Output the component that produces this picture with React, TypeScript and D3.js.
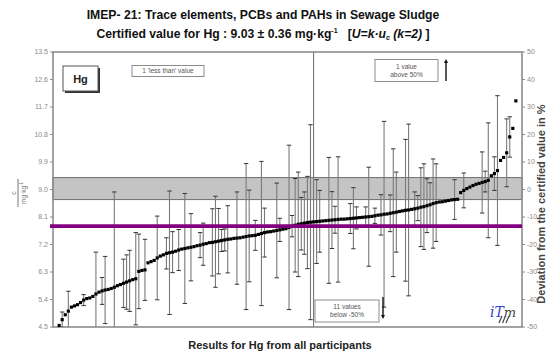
import React, { useRef, useEffect } from "react";
import * as d3 from "d3";

// sorted lab results for Hg (mg/kg)
const hgValues = [
  4.55, 4.74, 4.9, 5.02, 5.15, 5.19, 5.23, 5.3, 5.38, 5.43,
  5.45, 5.5, 5.58, 5.64, 5.68, 5.71, 5.73, 5.76, 5.8, 5.85,
  5.89, 5.93, 5.97, 6.01, 6.05, 6.08, 6.32, 6.35, 6.37, 6.6,
  6.64, 6.68, 6.76, 6.82, 6.86, 6.91, 6.93, 6.95, 6.98, 7.02,
  7.05, 7.07, 7.09, 7.11, 7.13, 7.16, 7.18, 7.21, 7.23, 7.26,
  7.27, 7.29, 7.31, 7.33, 7.35, 7.37, 7.38, 7.4, 7.41, 7.42,
  7.44, 7.46, 7.48, 7.49, 7.5, 7.53, 7.56, 7.59, 7.61, 7.62,
  7.64, 7.66, 7.68, 7.7, 7.72, 7.76, 7.8, 7.83, 7.86, 7.88,
  7.9, 7.92, 7.93, 7.94, 7.95, 7.96, 7.97, 7.98, 7.99, 8.0,
  8.01, 8.02, 8.03, 8.03, 8.04, 8.05, 8.06, 8.07, 8.08, 8.09,
  8.1, 8.11, 8.12, 8.14, 8.16, 8.17, 8.19, 8.2, 8.22, 8.24,
  8.26, 8.28, 8.3, 8.32, 8.33, 8.35, 8.37, 8.39, 8.42, 8.44,
  8.47, 8.5, 8.54, 8.57, 8.59, 8.6, 8.62, 8.64, 8.66, 8.67,
  8.68, 8.9, 8.97, 9.03, 9.08, 9.13, 9.17, 9.2, 9.23, 9.26,
  9.3, 9.45, 9.52, 9.62, 9.95, 10.05, 10.2, 10.72, 11.0, 11.9,
];

// expanded uncertainty reported by each lab (0 = none shown)
const hgUncertainty = [
  0, 0.25, 0, 0.65, 0, 0, 0, 0, 0.18, 0,
  0, 0, 1.37, 0, 0.44, 1.1, 0, 0, 3.12, 0,
  0, 0.79, 0.89, 1.0, 0, 1.51, 1.22, 0, 1.0, 0,
  0, 0, 1.37, 0, 0, 0.51, 2.02, 0.67, 0, 0.67,
  0, 1.8, 0, 1.1, 0, 0, 0.41, 0.69, 0, 0,
  1.1, 1.49, 1.07, 0.36, 0.36, 1.1, 0, 0, 1.51, 0,
  0, 2.39, 1.5, 0, 0.49, 0, 2.36, 0.8, 0, 0,
  0, 1.55, 0.38, 0, 0, 2.69, 0.35, 1.53, 1.71, 0.86,
  1.02, 1.51, 3.19, 6.0, 1.37, 1.01, 0, 0, 2.06, 0.93,
  0.44, 2.05, 0, 0, 0, 0.49, 1.0, 0.36, 0, 0,
  0.33, 1.62, 0, 0.25, 0, 0.66, 3.04, 0, 0.6, 2.09,
  1.31, 0, 0, 2.32, 2.81, 0, 0.55, 0.41, 1.29, 1.4,
  0.88, 0.72, 1.46, 1.27, 0, 0, 0, 0, 0, 0.65,
  0, 0, 0.57, 0, 0, 0, 0, 0, 1.0, 0.34,
  1.88, 0, 0.55, 2.45, 0, 0, 1.11, 0.66, 0, 0,
];

const leftTicks = [4.5, 5.4, 6.3, 7.2, 8.1, 9.0, 9.9, 10.8, 11.7, 12.6, 13.5];
const rightTicks = [-50, -40, -30, -20, -10, 0, 10, 20, 30, 40, 50];
const certifiedValue = 9.03;
const certifiedU = 0.36;
const purpleLevel = 7.8;

const W = 555;
const H = 358;
const margin = { top: 52, right: 33, bottom: 31, left: 53 };
const font = "'Liberation Sans', Arial, sans-serif";

const App = () => {
  const svgRef = useRef<SVGSVGElement>(null);

  useEffect(() => {
    const svg = d3.select(svgRef.current);
    svg.selectAll("*").remove();

    const x0 = margin.left;
    const x1 = W - margin.right;
    const y0 = margin.top;
    const y1 = H - margin.bottom;

    const x = d3.scaleLinear().domain([-2, hgValues.length + 1]).range([x0, x1]);
    const y = d3.scaleLinear().domain([4.5, 13.5]).range([y1, y0]);
    const yPct = d3.scaleLinear().domain([-50, 50]).range([y1, y0]);

    svg.append("rect").attr("width", W).attr("height", H).attr("fill", "#fff");

    // titles
    svg
      .append("text")
      .attr("x", 263)
      .attr("y", 18.5)
      .attr("text-anchor", "middle")
      .attr("font-family", font)
      .attr("font-weight", "bold")
      .attr("font-size", 12.2)
      .attr("fill", "#111")
      .text("IMEP- 21: Trace elements, PCBs and PAHs in Sewage Sludge");

    const t2 = svg
      .append("text")
      .attr("x", 263)
      .attr("y", 37.5)
      .attr("text-anchor", "middle")
      .attr("font-family", font)
      .attr("font-weight", "bold")
      .attr("font-size", 12.2)
      .attr("fill", "#111");
    t2.append("tspan").text("Certified value for Hg : 9.03 ± 0.36 mg·kg");
    t2.append("tspan").attr("dy", -5).attr("font-size", 7).text("-1");
    t2.append("tspan").attr("dy", 5).text("\u00a0\u00a0\u00a0[");
    t2.append("tspan").attr("font-style", "italic").text("U=k·u");
    t2.append("tspan").attr("dy", 2).attr("font-size", 7).attr("font-style", "italic").text("c");
    t2.append("tspan").attr("dy", -2).attr("font-style", "italic").text(" (k=2)");
    t2.append("tspan").text(" ]");

    // certified range band
    svg
      .append("rect")
      .attr("x", x0)
      .attr("y", y(certifiedValue + certifiedU))
      .attr("width", x1 - x0)
      .attr("height", y(certifiedValue - certifiedU) - y(certifiedValue + certifiedU))
      .attr("fill", "#c4c4c4")
      .attr("stroke", "#6e6e6e")
      .attr("stroke-width", 1);

    // plot frame
    svg
      .append("rect")
      .attr("x", x0)
      .attr("y", y0)
      .attr("width", x1 - x0)
      .attr("height", y1 - y0)
      .attr("fill", "none")
      .attr("stroke", "#8c8c8c")
      .attr("stroke-width", 1.6);

    svg
      .append("defs")
      .append("clipPath")
      .attr("id", "plotClip")
      .append("rect")
      .attr("x", x0)
      .attr("y", y0)
      .attr("width", x1 - x0)
      .attr("height", y1 - y0);

    const plot = svg.append("g").attr("clip-path", "url(#plotClip)");

    // error bars
    hgValues.forEach((v, i) => {
      const u = hgUncertainty[i];
      if (!u) return;
      const cx = x(i);
      plot
        .append("line")
        .attr("x1", cx)
        .attr("x2", cx)
        .attr("y1", y(v + u))
        .attr("y2", y(v - u))
        .attr("stroke", "#7a7a7a")
        .attr("stroke-width", 1.1);
      [v + u, v - u].forEach((e) => {
        plot
          .append("line")
          .attr("x1", cx - 2.2)
          .attr("x2", cx + 2.2)
          .attr("y1", y(e))
          .attr("y2", y(e))
          .attr("stroke", "#333")
          .attr("stroke-width", 1);
      });
    });

    // purple reference line
    svg
      .append("line")
      .attr("x1", x0 - 3)
      .attr("x2", x1)
      .attr("y1", y(purpleLevel))
      .attr("y2", y(purpleLevel))
      .attr("stroke", "#800080")
      .attr("stroke-width", 3.8);

    // results
    const marker = d3.symbol().type(d3.symbolSquare).size(10);
    plot
      .selectAll(".pt")
      .data(hgValues)
      .join("path")
      .attr("d", marker)
      .attr("transform", (d, i) => `translate(${x(i)},${y(d)})`)
      .attr("fill", "#000");

    // left axis
    const left = svg.append("g").attr("font-family", font).attr("font-size", 7).attr("fill", "#8a8a8a");
    leftTicks.forEach((t) => {
      left
        .append("line")
        .attr("x1", x0 - 3)
        .attr("x2", x0)
        .attr("y1", y(t))
        .attr("y2", y(t))
        .attr("stroke", "#8c8c8c");
      left
        .append("text")
        .attr("x", x0 - 5)
        .attr("y", y(t))
        .attr("dy", "0.35em")
        .attr("text-anchor", "end")
        .text(t.toFixed(1));
    });

    // right axis
    const right = svg.append("g").attr("font-family", font).attr("font-size", 7).attr("fill", "#8a8a8a");
    rightTicks.forEach((t) => {
      right
        .append("line")
        .attr("x1", x1)
        .attr("x2", x1 + 3)
        .attr("y1", yPct(t))
        .attr("y2", yPct(t))
        .attr("stroke", "#8c8c8c");
      right
        .append("text")
        .attr("x", x1 + 5)
        .attr("y", yPct(t))
        .attr("dy", "0.35em")
        .text(String(t));
    });

    // left axis unit label
    const unit = svg.append("g").attr("transform", "translate(21,193) rotate(-90)");
    unit
      .append("text")
      .attr("x", 0)
      .attr("y", -5)
      .attr("text-anchor", "middle")
      .attr("font-family", font)
      .attr("font-size", 7)
      .attr("fill", "#777")
      .text("c");
    unit
      .append("line")
      .attr("x1", -14)
      .attr("x2", 14)
      .attr("y1", -3)
      .attr("y2", -3)
      .attr("stroke", "#777");
    const ut = unit
      .append("text")
      .attr("x", 0)
      .attr("y", 5)
      .attr("text-anchor", "middle")
      .attr("font-family", font)
      .attr("font-size", 6.5)
      .attr("fill", "#777");
    ut.append("tspan").text("mg·kg");
    ut.append("tspan").attr("dy", -3).attr("font-size", 4.5).text("-1");

    // right axis title
    svg
      .append("text")
      .attr("transform", "translate(545,204) rotate(-90)")
      .attr("text-anchor", "middle")
      .attr("font-family", font)
      .attr("font-weight", "bold")
      .attr("font-size", 11)
      .attr("fill", "#444")
      .text("Deviation from the certified value in %");

    // x axis title
    svg
      .append("text")
      .attr("x", 280)
      .attr("y", 349)
      .attr("text-anchor", "middle")
      .attr("font-family", font)
      .attr("font-weight", "bold")
      .attr("font-size", 11)
      .attr("fill", "#222")
      .text("Results for Hg from all participants");

    // "Hg" label box
    svg.append("rect").attr("x", 65).attr("y", 68).attr("width", 35).attr("height", 25).attr("fill", "#333");
    svg
      .append("rect")
      .attr("x", 63)
      .attr("y", 66)
      .attr("width", 35)
      .attr("height", 25)
      .attr("fill", "#fff")
      .attr("stroke", "#555");
    svg
      .append("text")
      .attr("x", 80.5)
      .attr("y", 82.5)
      .attr("text-anchor", "middle")
      .attr("font-family", font)
      .attr("font-weight", "bold")
      .attr("font-size", 11)
      .attr("fill", "#222")
      .text("Hg");

    // note boxes
    const note = (bx: number, by: number, bw: number, bh: number, lines: string[]) => {
      svg
        .append("rect")
        .attr("x", bx)
        .attr("y", by)
        .attr("width", bw)
        .attr("height", bh)
        .attr("fill", "#fff")
        .attr("stroke", "#8c8c8c");
      lines.forEach((l, k) => {
        svg
          .append("text")
          .attr("x", bx + bw / 2)
          .attr("y", by + bh / 2 + (k - (lines.length - 1) / 2) * 8)
          .attr("dy", "0.35em")
          .attr("text-anchor", "middle")
          .attr("font-family", font)
          .attr("font-size", 6.5)
          .attr("fill", "#555")
          .text(l);
      });
    };
    note(132, 65.5, 72, 11, ["1 'less than' value"]);
    note(375, 59.5, 63, 22, ["1 value", "above 50%"]);
    note(315, 300, 64, 22, ["11 values", "below -50%"]);

    // arrows for out-of-range results
    const arrow = (ax: number, yFrom: number, yTo: number) => {
      const dir = yTo < yFrom ? -1 : 1;
      svg
        .append("line")
        .attr("x1", ax)
        .attr("x2", ax)
        .attr("y1", yFrom)
        .attr("y2", yTo - dir * 3)
        .attr("stroke", "#111")
        .attr("stroke-width", 1.4);
      svg
        .append("path")
        .attr("d", `M${ax - 2},${yTo - dir * 4} L${ax + 2},${yTo - dir * 4} L${ax},${yTo} Z`)
        .attr("fill", "#111");
    };
    arrow(446, 81, 59);
    arrow(383, 297, 319);

    // logo
    const logo = svg
      .append("text")
      .attr("x", 490)
      .attr("y", 317)
      .attr("font-family", "'DejaVu Serif', serif")
      .attr("font-style", "italic")
      .attr("font-size", 14);
    logo.append("tspan").attr("fill", "#3344cc").text("iT");
    logo.append("tspan").attr("fill", "#444").attr("font-size", 13).text("m");
    [0, 3.5, 7].forEach((dx) => {
      svg
        .append("line")
        .attr("x1", 502 + dx)
        .attr("x2", 499 + dx)
        .attr("y1", 316)
        .attr("y2", 323)
        .attr("stroke", "#444")
        .attr("stroke-width", 1.2);
    });
  }, []);

  return (
    <div style={{ position: "fixed", left: 0, top: 0 }}>
      <svg ref={svgRef} width={W} height={H} style={{ display: "block" }}></svg>
    </div>
  );
};

export default App;
